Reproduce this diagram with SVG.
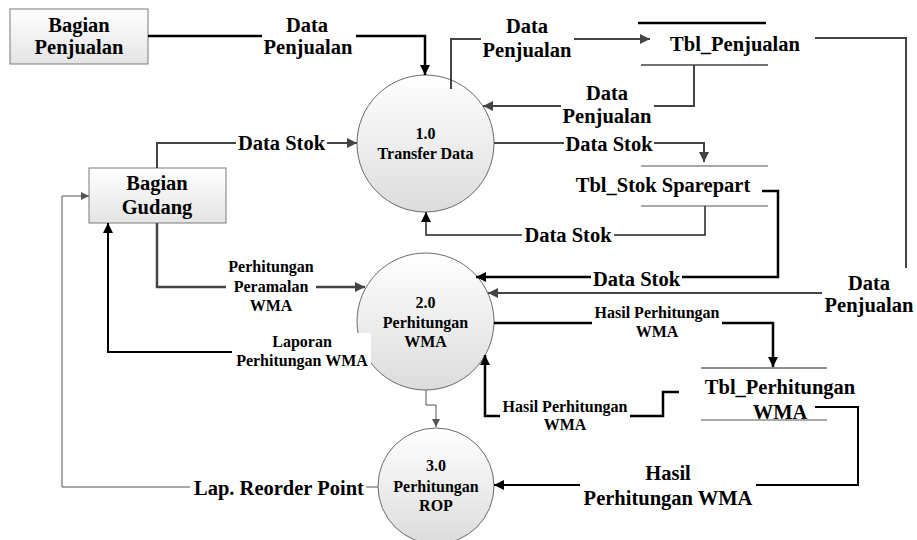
<svg xmlns="http://www.w3.org/2000/svg" width="917" height="540" viewBox="0 0 917 540">
<style>
.t{font-family:"Liberation Serif","Times New Roman",serif;font-weight:bold;fill:#000;text-anchor:middle}
.b{font-size:20.5px}
.s{font-size:16px}
.ent{fill:url(#gb);stroke:#7a7a7a;stroke-width:1}
.proc{fill:url(#gc);stroke:#6a6a6a;stroke-width:1}
.bg{fill:#fff}
.k{fill:none;stroke:#000;stroke-width:2.5}
.k2{fill:none;stroke:#000;stroke-width:2}
.g{fill:none;stroke:#444;stroke-width:2}
.gt{fill:none;stroke:#555;stroke-width:1}
</style>
<defs>
<linearGradient id="gb" x1="0" y1="0" x2="0" y2="1"><stop offset="0" stop-color="#ffffff"/><stop offset="1" stop-color="#e4e4e4"/></linearGradient>
<linearGradient id="gc" x1="0" y1="0" x2="0" y2="1"><stop offset="0" stop-color="#ffffff"/><stop offset="1" stop-color="#dcdcdc"/></linearGradient>
<marker id="ak" viewBox="0 0 10 10" refX="10" refY="5" markerWidth="11" markerHeight="10" orient="auto" markerUnits="userSpaceOnUse"><path d="M0,0 L10,5 L0,10 z" fill="#000"/></marker>
<marker id="ag" viewBox="0 0 10 10" refX="10" refY="5" markerWidth="11" markerHeight="10" orient="auto" markerUnits="userSpaceOnUse"><path d="M0,0 L10,5 L0,10 z" fill="#444"/></marker>
<marker id="at" viewBox="0 0 10 10" refX="10" refY="5" markerWidth="9" markerHeight="8" orient="auto" markerUnits="userSpaceOnUse"><path d="M0,0 L10,5 L0,10 z" fill="#555"/></marker>
</defs>
<rect width="917" height="540" fill="#fff"/>

<g id="bagian-penjualan">
<rect class="ent" x="10" y="9" width="138" height="55"/>
<text class="t b" x="79" y="32">Bagian</text>
<text class="t b" x="79" y="54">Penjualan</text>
</g>
<g id="bagian-gudang">
<rect class="ent" x="89" y="168" width="137" height="55"/>
<text class="t b" x="157" y="190">Bagian</text>
<text class="t b" x="157" y="214">Gudang</text>
</g>
<g id="p1">
<circle class="proc" cx="425.5" cy="143.5" r="68.5"/>
<text class="t s" x="425.5" y="139">1.0</text>
<text class="t s" x="425.5" y="159">Transfer Data</text>
</g>
<g id="p2">
<circle class="proc" cx="425.5" cy="321.5" r="68.5"/>
<text class="t s" x="425.5" y="308">2.0</text>
<text class="t s" x="425.5" y="328">Perhitungan</text>
<text class="t s" x="425.5" y="347">WMA</text>
</g>
<g id="p3">
<circle class="proc" cx="436" cy="486" r="58"/>
<text class="t s" x="436" y="471">3.0</text>
<text class="t s" x="436" y="492">Perhitungan</text>
<text class="t s" x="436" y="511">ROP</text>
</g>
<g id="tbl-penjualan">
<path d="M638,23 H766" stroke="#000" stroke-width="2.5"/>
<path d="M641,65 H768" stroke="#444" stroke-width="1.5"/>
<text class="t b" x="735" y="51">Tbl_Penjualan</text>
</g>
<g id="tbl-stok">
<path d="M641,166 H768 M641,206 H768" stroke="#555" stroke-width="1"/>
<text class="t b" x="663" y="192">Tbl_Stok Sparepart</text>
</g>
<g id="tbl-perhitungan">
<path d="M701,368 H827" stroke="#666" stroke-width="1.5"/>
<path d="M701,420 H827" stroke="#555" stroke-width="1"/>
<text class="t b" x="780" y="394">Tbl_Perhitungan</text>
<text class="t b" x="780" y="419">WMA</text>
</g>

<g id="connectors">
<path class="k" d="M148,36 H425 V75" marker-end="url(#ak)"/>
<path class="g" d="M451,89 V39 H650" marker-end="url(#ag)"/>
<path class="g" d="M694,65 V106 H483" marker-end="url(#ag)"/>
<path class="g" d="M815,38 H906 V293 H488" marker-end="url(#ag)"/>
<path class="g" d="M157,168 V143 H357" marker-end="url(#ag)"/>
<path class="g" d="M494,143 H704 V162" marker-end="url(#ag)"/>
<path fill="none" stroke="#222" stroke-width="1.5" d="M705,206 V235 H426 V212" marker-end="url(#ak)"/>
<path class="k" d="M762,191 H778 V277 H476" marker-end="url(#ak)"/>
<path fill="none" stroke="#444" stroke-width="2.5" d="M157,223 V287 H365" marker-end="url(#ag)"/>
<path class="k2" d="M364,352 H108 V223" marker-end="url(#ak)"/>
<path class="k" d="M494,323 H773 V367" marker-end="url(#ak)"/>
<path class="k" d="M679,392 H663 V416 H485 V355" marker-end="url(#ak)"/>
<path class="gt" d="M426,390 V405 H436 V427" marker-end="url(#at)"/>
<path class="k2" d="M815,407 H858 V485 H494" marker-end="url(#ak)"/>
<path class="gt" d="M378,487 H62 V196 H89" marker-end="url(#at)"/>

<rect class="bg" x="262" y="16" width="94" height="44"/>
<text class="t b" x="307" y="32">Data</text>
<text class="t b" x="308" y="54">Penjualan</text>

<rect class="bg" x="481" y="17" width="93" height="45"/>
<text class="t b" x="527" y="33">Data</text>
<text class="t b" x="527" y="57">Penjualan</text>

<rect class="bg" x="561" y="85" width="93" height="43"/>
<text class="t b" x="607" y="100">Data</text>
<text class="t b" x="607" y="123">Penjualan</text>

<rect class="bg" x="822" y="268" width="95" height="50"/>
<text class="t b" x="869" y="290">Data</text>
<text class="t b" x="869" y="312">Penjualan</text>

<rect class="bg" x="236" y="133" width="91" height="20"/>
<text class="t b" x="281.5" y="150">Data Stok</text>

<rect class="bg" x="564" y="134" width="90" height="20"/>
<text class="t b" x="609" y="151">Data Stok</text>

<rect class="bg" x="522" y="226" width="92" height="20"/>
<text class="t b" x="568" y="242">Data Stok</text>

<rect class="bg" x="591" y="270" width="91" height="19"/>
<text class="t b" x="636.5" y="286">Data Stok</text>

<rect class="bg" x="226" y="259" width="90" height="57"/>
<text class="t s" x="271" y="272">Perhitungan</text>
<text class="t s" x="271" y="292">Peramalan</text>
<text class="t s" x="271" y="311">WMA</text>

<rect class="bg" x="232" y="333" width="139" height="39"/>
<text class="t s" x="302" y="347">Laporan</text>
<text class="t s" x="302" y="366">Perhitungan WMA</text>

<rect class="bg" x="592" y="305" width="130" height="37"/>
<text class="t s" x="657" y="318">Hasil Perhitungan</text>
<text class="t s" x="657" y="337">WMA</text>

<rect class="bg" x="500" y="399" width="130" height="36"/>
<text class="t s" x="565" y="412">Hasil Perhitungan</text>
<text class="t s" x="565" y="430">WMA</text>

<rect class="bg" x="580" y="462" width="176" height="48"/>
<text class="t b" x="668" y="480">Hasil</text>
<text class="t b" x="668" y="505">Perhitungan WMA</text>

<rect class="bg" x="190" y="476" width="176" height="22"/>
<text class="t b" x="279" y="495">Lap. Reorder Point</text>
</g>
</svg>
